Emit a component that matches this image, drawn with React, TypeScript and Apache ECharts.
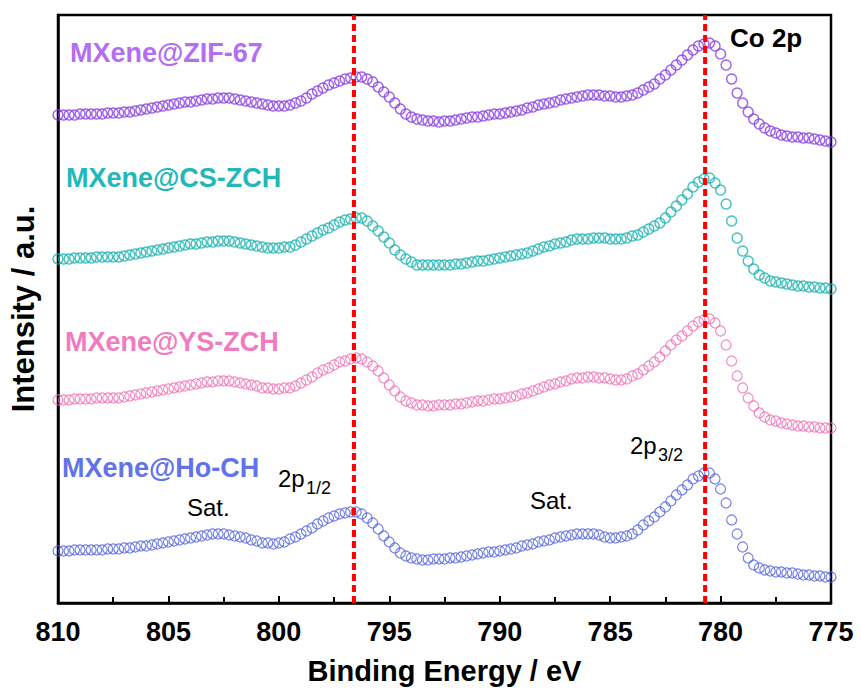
import React, { useEffect, useRef } from "react";
import * as echarts from "echarts";

// Binding energy sampling (eV), 810 → 775 in 0.25 eV steps
const energies: number[] = Array.from({ length: 141 }, (_, i) => 810 - i * 0.25);

const seriesNames = ["MXene@ZIF-67", "MXene@CS-ZCH", "MXene@YS-ZCH", "MXene@Ho-CH"];

// Intensities (a.u., stacked offsets as in the figure)
const zif67 = [
  488, 488, 488, 488, 489, 489, 489, 489, 489, 490,
  490, 490, 491, 491, 492, 493, 494, 495, 496, 497,
  498, 499, 500, 501, 501, 502, 503, 504, 504, 505,
  505, 505, 504, 503, 502, 501, 500, 499, 498, 497,
  497, 497, 498, 500, 502, 505, 509, 512, 515, 518,
  520, 522, 524, 525, 526, 526, 524, 521, 516, 511,
  506, 500, 494, 489, 486, 484, 483, 482, 482, 481,
  482, 482, 483, 484, 485, 486, 486, 487, 488, 489,
  489, 490, 491, 492, 493, 495, 496, 498, 499, 500,
  501, 503, 504, 505, 506, 507, 508, 508, 508, 507,
  507, 506, 506, 507, 508, 510, 513, 516, 519, 524,
  528, 533, 538, 543, 548, 553, 557, 559, 560, 557,
  549, 538, 524, 510, 500, 491, 484, 479, 475, 472,
  470, 468, 467, 466, 466, 465, 465, 464, 463, 462, 461,
];
const csZch = [
  344, 344, 344, 345, 345, 345, 345, 346, 346, 346,
  346, 346, 347, 348, 349, 350, 351, 352, 353, 354,
  355, 356, 357, 358, 359, 359, 360, 361, 361, 362,
  362, 362, 361, 360, 359, 358, 357, 356, 355, 355,
  355, 356, 356, 358, 361, 364, 367, 370, 373, 375,
  378, 381, 383, 384, 385, 385, 382, 377, 372, 366,
  360, 353, 348, 344, 341, 338, 338, 338, 338, 338,
  338, 338, 339, 339, 340, 341, 342, 342, 343, 344,
  345, 346, 347, 348, 349, 350, 352, 354, 356, 357,
  359, 360, 361, 363, 364, 364, 364, 365, 365, 365,
  364, 364, 364, 365, 367, 368, 371, 374, 377, 380,
  385, 391, 397, 403, 409, 416, 421, 424, 425, 420,
  413, 399, 382, 365, 352, 342, 334, 328, 325, 322,
  321, 320, 319, 318, 317, 317, 316, 316, 315, 315, 314,
];
const ysZch = [
  203, 203, 203, 204, 204, 204, 204, 205, 205, 205,
  205, 205, 206, 207, 208, 209, 210, 211, 212, 213,
  214, 215, 216, 217, 218, 219, 220, 221, 221, 222,
  222, 222, 221, 220, 219, 218, 217, 215, 215, 214,
  214, 215, 215, 217, 220, 223, 226, 230, 233, 235,
  238, 241, 242, 244, 245, 244, 241, 237, 232, 225,
  218, 212, 206, 202, 200, 198, 198, 197, 197, 198,
  198, 198, 199, 199, 200, 201, 202, 202, 203, 204,
  204, 205, 206, 207, 209, 210, 212, 214, 216, 218,
  219, 221, 222, 224, 225, 225, 226, 226, 225, 225,
  224, 223, 223, 224, 227, 229, 233, 237, 241, 246,
  252, 258, 263, 267, 272, 277, 281, 283, 284, 280,
  272, 258, 242, 227, 215, 205, 197, 190, 186, 183,
  182, 180, 179, 178, 177, 177, 176, 176, 175, 175, 175,
];
const hoCh = [
  52, 52, 52, 53, 53, 53, 53, 53, 53, 54,
  54, 54, 55, 55, 56, 57, 57, 58, 59, 60,
  61, 62, 63, 64, 65, 66, 67, 68, 69, 69,
  69, 68, 67, 66, 65, 63, 62, 60, 60, 59,
  60, 61, 64, 66, 69, 72, 75, 79, 82, 85,
  87, 89, 90, 91, 91, 89, 85, 80, 74, 67,
  61, 55, 50, 47, 45, 44, 43, 43, 44, 44,
  44, 45, 45, 46, 47, 48, 49, 50, 51, 51,
  52, 53, 54, 55, 57, 58, 59, 61, 62, 63,
  65, 66, 67, 68, 69, 69, 69, 69, 68, 66,
  65, 65, 66, 67, 69, 73, 78, 82, 86, 91,
  96, 102, 108, 113, 118, 124, 127, 130, 130, 124,
  114, 100, 83, 69, 56, 45, 38, 35, 33, 32,
  31, 31, 30, 30, 29, 28, 28, 27, 27, 26, 26,
];

const seriesValues = [zif67, csZch, ysZch, hoCh];
const markerColors = ["#8A3FE6", "#1DB3B3", "#F06CB4", "#5060E0"];
const labelColors = ["#B36EF2", "#22B8B8", "#F07CC0", "#6272EA"];
const markerWidths = [1.5, 1.5, 1.2, 1.2];

// Peak positions (eV): Co 2p1/2 and Co 2p3/2
const peakPositions = [796.6, 780.7];

const FONT = '"Liberation Sans", Arial, sans-serif';

export default function App() {
  const ref = useRef<HTMLDivElement>(null);

  useEffect(() => {
    if (!ref.current) return;
    const chart = echarts.init(ref.current, null, { renderer: "svg" });

    const scatterSeries = seriesValues.map((vals, k) => ({
      type: "scatter",
      name: seriesNames[k],
      data: energies.map((e, i) => [e, vals[i]]),
      symbol: "circle",
      symbolSize: 10,
      silent: true,
      itemStyle: { color: "rgba(255,255,255,0)", borderColor: markerColors[k], borderWidth: markerWidths[k] },
      emphasis: { disabled: true },
      z: 2,
    }));

    const peakSeries = peakPositions.map((p) => ({
      type: "line",
      data: [
        [p, 0],
        [p, 588],
      ],
      symbol: "none",
      silent: true,
      lineStyle: { color: "#ff0000", width: 4, type: [7, 4] },
      z: 3,
    }));

    const labelY = [53, 177.5, 341.5, 468];
    const labelX = [70, 66, 65, 62];

    const txt = (x: number, y: number, text: string, font: string, fill = "#000") => ({
      type: "text",
      x,
      y,
      silent: true,
      z: 10,
      style: { text, font, fill, textAlign: "left", textVerticalAlign: "middle" },
    });

    const graphics: any[] = [
      ...seriesNames.map((n, k) => txt(labelX[k], labelY[k], n, `bold 27px ${FONT}`, labelColors[k])),
      txt(730, 38, "Co 2p", `bold 26px ${FONT}`),
      txt(187, 507, "Sat.", `24px ${FONT}`),
      txt(530, 500, "Sat.", `24px ${FONT}`),
      txt(278, 478.5, "2p", `24px ${FONT}`),
      txt(306, 487.5, "1/2", `18px ${FONT}`),
      txt(630, 445, "2p", `24px ${FONT}`),
      txt(658, 455, "3/2", `18px ${FONT}`),
    ];

    const option: any = {
      animation: false,
      backgroundColor: "#fff",
      textStyle: { fontFamily: FONT },
      grid: {
        left: 58,
        right: 30,
        top: 15,
        bottom: 90,
        show: true,
        borderColor: "#000",
        borderWidth: 2.5,
        backgroundColor: "transparent",
      },
      xAxis: {
        type: "value",
        min: 775,
        max: 810,
        interval: 5,
        inverse: true,
        name: "Binding Energy / eV",
        nameLocation: "middle",
        nameGap: 53,
        nameTextStyle: { fontSize: 29, fontWeight: "bold", color: "#000", fontFamily: FONT },
        axisLine: { show: true, lineStyle: { color: "#000", width: 2.5 } },
        axisTick: { show: true, inside: true, length: 7, lineStyle: { color: "#000", width: 2 } },
        minorTick: { show: true, splitNumber: 2, length: 6, lineStyle: { color: "#000", width: 2 } },
        axisLabel: { fontSize: 27, fontWeight: "bold", color: "#000", margin: 15, fontFamily: FONT },
        splitLine: { show: false },
        minorSplitLine: { show: false },
      },
      yAxis: {
        type: "value",
        min: 0,
        max: 588,
        name: "Intensity / a.u.",
        nameLocation: "middle",
        nameGap: 19,
        nameTextStyle: { fontSize: 31, fontWeight: "bold", color: "#000", fontFamily: FONT },
        axisLine: { show: true, lineStyle: { color: "#000", width: 2.5 } },
        axisTick: { show: false },
        axisLabel: { show: false },
        splitLine: { show: false },
      },
      series: [...scatterSeries, ...peakSeries],
      graphic: graphics,
    };

    chart.setOption(option);
    return () => chart.dispose();
  }, []);

  return (
    <div
      ref={ref}
      style={{ position: "fixed", left: 0, top: 0, width: 861, height: 693 }}
    />
  );
}
